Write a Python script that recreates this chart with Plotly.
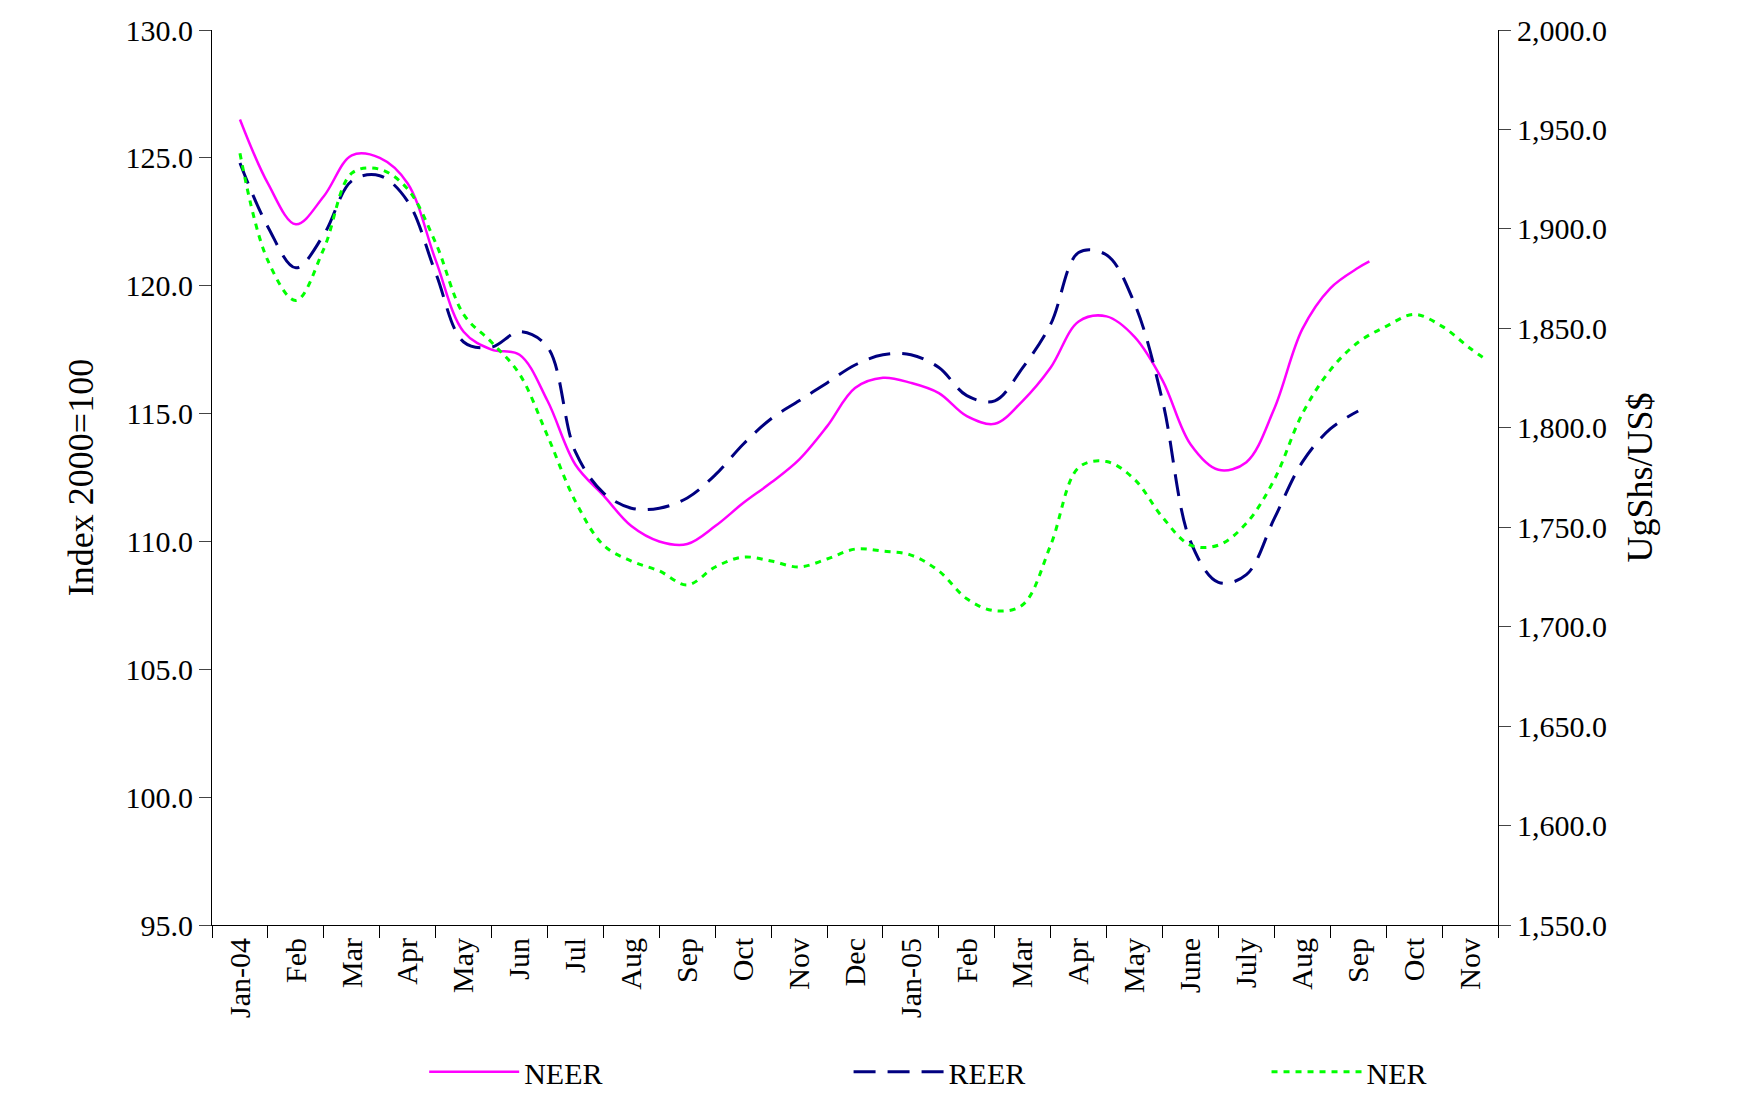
import plotly.graph_objects as go

months = ["Jan-04","Feb","Mar","Apr","May","Jun","Jul","Aug","Sep","Oct","Nov","Dec",
          "Jan-05","Feb","Mar","Apr","May","June","July","Aug","Sep","Oct","Nov"]
neer = [126.5,124.0,122.4,123.5,125.1,125.0,124.0,121.0,118.2,117.5,117.3,115.5,113.0,111.8,
        110.6,110.0,109.9,110.6,111.5,112.3,113.2,114.5,116.0,116.4,116.2,115.8,114.9,114.6,
        115.5,116.8,118.6,118.8,118.0,116.3,113.8,112.8,113.1,115.2,118.3,119.9,120.7,120.95]
reer = [124.8,122.3,120.7,122.0,124.1,124.3,123.3,120.5,117.8,117.6,118.2,117.6,113.5,111.9,
        111.3,111.3,111.7,112.6,113.8,114.8,115.5,116.2,116.9,117.3,117.3,116.8,115.7,115.5,
        116.8,118.5,121.3,121.2,119.3,115.5,110.0,108.4,108.7,110.9,113.1,114.4,115.1]
ner = [1938,1884,1864,1890,1928,1930,1920,1893,1857,1843,1827,1796,1763,1741,1733,1728,1721,
       1730,1735,1733,1730,1734,1739,1738,1736,1728,1714,1708,1711,1741,1780,1783,1774,1755,
       1741,1741,1752,1774,1807,1829,1843,1851,1857,1851,1840,1834]

def xs(n, last=None):
    v = [i * 0.5 for i in range(n)]
    if last is not None:
        v[-1] = last
    return v

F = "Liberation Serif"
fig = go.Figure()
fig.add_trace(go.Scatter(x=xs(len(neer), 20.2), y=neer, name="NEER", mode="lines", legend="legend",
                         line=dict(color="#FF00FF", width=2.5, shape="spline")))
fig.add_trace(go.Scatter(x=xs(len(reer)), y=reer, name="REER", mode="lines", legend="legend2",
                         line=dict(color="#000080", width=3, dash="22px,12px", shape="spline")))
fig.add_trace(go.Scatter(x=xs(len(ner), 22.3), y=ner, name="NER", mode="lines", yaxis="y2",
                         legend="legend3",
                         line=dict(color="#00FF00", width=3, dash="6px,6px", shape="spline")))

leg = dict(orientation="h", xanchor="left", y=-0.135, yanchor="top",
           font=dict(size=30), itemwidth=90)
fig.update_layout(
    width=1749, height=1102, plot_bgcolor="white", paper_bgcolor="white",
    margin=dict(l=204, r=259, t=22, b=151),
    font=dict(family=F, size=30, color="black"),
    showlegend=True,
    legend=dict(leg, x=0.165),
    legend2=dict(leg, x=0.495),
    legend3=dict(leg, x=0.82),
    xaxis=dict(range=[-0.5, 22.5], tickmode="array", tickvals=list(range(23)), ticktext=months,
               tickangle=-90, ticks="", showgrid=False, showline=True, linecolor="black",
               zeroline=False, automargin=False,
               minor=dict(tickmode="array", tickvals=[i - 0.5 for i in range(24)],
                          ticks="outside", ticklen=12, tickcolor="black")),
    yaxis=dict(title=dict(text="Index 2000=100", standoff=20), range=[95, 130], dtick=5,
               tickformat=".1f", automargin=False,
               ticks="outside", ticklen=12, showgrid=False, showline=True, linecolor="black",
               zeroline=False),
    yaxis2=dict(title=dict(text="UgShs/US$", standoff=20), overlaying="y", side="right",
                range=[1550, 2000], automargin=False,
                dtick=50, tickformat=",.1f", ticks="outside", ticklen=12, showgrid=False,
                showline=True, linecolor="black", zeroline=False),
)
fig.write_html("out.html")
